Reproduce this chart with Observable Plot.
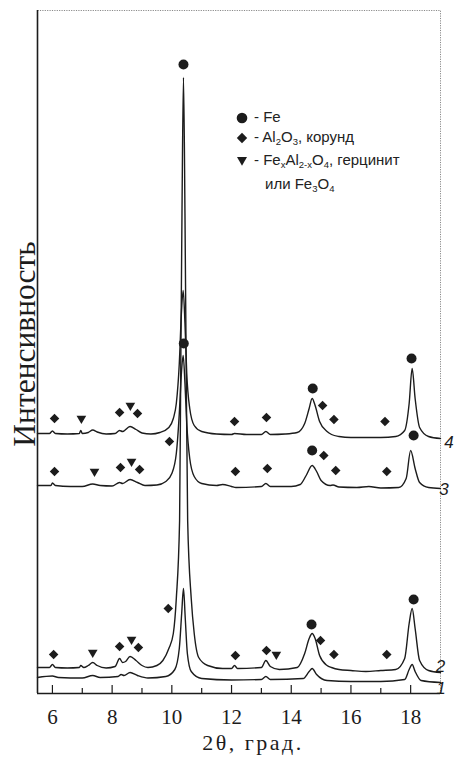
<!DOCTYPE html>
<html><head><meta charset="utf-8">
<script src="https://cdn.jsdelivr.net/npm/d3@7"></script>
<script src="https://cdn.jsdelivr.net/npm/@observablehq/plot@0.6"></script>
<style>
body{margin:0;background:#fff;}
#wrap{position:relative;width:459px;height:763px;}
.lg{position:absolute;font-family:"Liberation Sans",Arial,sans-serif;font-size:15px;color:#222;white-space:nowrap;line-height:16px;}
.lg sub{font-size:9.5px;vertical-align:-3px;line-height:0;}
</style></head><body><div id="wrap"></div>
<script>
const xDomain = [5.5, 19];
const yDomain = [0, 683];
const xTicksMajor = [6, 8, 10, 12, 14, 16, 18];
const xTicksMinor = [7, 9, 11, 13, 15, 17];
const curveNames = ["1", "2", "3", "4"];

const curve1 = [[5.5,16],[6.0,17.5],[6.2,16],[7.0,15.5],[7.35,18],[7.6,16],[8.2,17],[8.3,19],[8.4,18],[8.6,21],[8.85,18],[9.2,15.5],[9.8,17],[10.1,24],[10.25,45],[10.33,80],[10.39,105],[10.45,75],[10.52,40],[10.65,22],[11.0,15],[12.0,13.5],[13.0,14],[13.15,17],[13.3,14],[14.4,15],[14.6,22],[14.7,25],[14.85,19],[15.2,13],[16.0,12],[17.0,12],[17.8,14],[17.95,24],[18.05,29],[18.15,22],[18.35,13],[19.0,11]];
const curve2 = [[5.5,26],[5.9,26],[6.0,29],[6.1,26],[6.5,25.5],[6.9,26],[6.95,28],[7.05,26],[7.2,28],[7.35,31],[7.5,28],[7.8,25.5],[8.1,27],[8.25,35],[8.35,31],[8.45,32],[8.6,37],[8.8,33],[9.0,28],[9.2,26],[9.5,28],[9.7,33],[9.9,45],[10.05,60],[10.15,95],[10.26,173],[10.3,330],[10.34,480],[10.39,616],[10.44,480],[10.48,330],[10.53,173],[10.65,95],[10.75,60],[10.9,36],[11.2,28],[11.7,25],[12.0,25],[12.1,28],[12.2,25],[13.0,26],[13.15,33],[13.3,27],[13.6,24],[14.2,26],[14.45,40],[14.6,55],[14.7,60],[14.8,55],[14.95,38],[15.2,28],[15.35,26],[15.6,24],[16.0,23],[16.5,22],[17.0,23],[17.5,24],[17.8,35],[17.95,70],[18.05,85],[18.15,65],[18.3,33],[18.6,23],[19.0,21]];
const curve3 = [[5.5,208],[5.95,208],[6.0,210.5],[6.1,208],[6.6,207],[7.0,207],[7.35,209.5],[7.6,208],[8.0,207.5],[8.25,211],[8.35,210],[8.6,214],[8.85,211],[9.1,208],[9.5,208.5],[9.8,212],[10.0,220],[10.15,240],[10.25,280],[10.32,320],[10.38,338],[10.44,310],[10.5,270],[10.6,235],[10.75,217],[11.0,210],[11.5,208],[11.7,209],[12.0,207],[12.15,206],[13.0,207],[13.15,210],[13.3,207],[14.0,207],[14.3,209],[14.5,218],[14.7,228],[14.85,222],[15.0,213],[15.3,208],[15.4,208.5],[15.6,206.5],[16.2,206],[16.6,207],[17.0,205.5],[17.6,206],[17.85,215],[18.0,243],[18.15,225],[18.3,211],[18.6,206],[19.0,205]];
const curve4 = [[5.5,260],[5.9,260],[6.0,262.5],[6.1,260],[6.5,259.5],[6.9,260],[6.95,263],[7.0,260],[7.2,261],[7.35,263.5],[7.5,261.5],[7.8,259.5],[8.1,260],[8.25,263],[8.35,262],[8.6,267],[8.8,264],[9.0,260.5],[9.3,259.5],[9.6,261],[9.9,266],[10.05,275],[10.15,290],[10.25,330],[10.32,380],[10.38,403],[10.44,370],[10.5,320],[10.6,285],[10.75,268],[11.0,262],[11.5,259.5],[12.0,259],[12.1,260],[12.5,259],[13.0,259],[13.15,262],[13.3,259],[13.8,259.5],[14.2,261],[14.45,270],[14.6,285],[14.7,295],[14.8,288],[14.95,272],[15.2,262],[15.35,259],[15.6,257],[16.0,256],[16.5,256],[17.0,256],[17.5,257],[17.8,263],[17.95,290],[18.05,325],[18.15,295],[18.3,266],[18.6,257],[19.0,255]];

const feMarks = [[10.39,629],[10.4,350],[14.72,305],[18.03,335],[14.7,243],[18.1,258],[14.68,69],[18.1,94]];
const al2o3Marks = [[6.07,275],[8.25,281],[8.85,280],[12.1,272],[13.17,276],[15.05,288],[15.43,274],[17.14,272],
  [9.92,252],[6.07,222],[8.28,226],[8.92,224],[12.13,222],[13.2,225],[15.09,238],[15.49,223],[17.2,222],
  [6.04,39],[8.25,47],[8.88,46],[9.88,85],[12.13,38],[13.17,43],[14.98,53],[15.43,39],[17.2,39]];
const hercMarks = [[6.97,275],[8.61,288],[7.41,222],[8.65,232],[7.35,41],[8.65,54],[13.5,39]];

const curves = [curve1, curve2, curve3, curve4];
const rows = curves.flatMap((c, i) => c.map(([x, y]) => ({x, y, curve: curveNames[i]})));
const ends = curves.map((c, i) => ({x: c[c.length - 1][0], y: c[c.length - 1][1], label: curveNames[i]}));
const endShift = {"1": [0.5, 6.5], "2": [0, -6], "3": [3.5, 1], "4": [8.5, 4]};
const toObj = a => a.map(([x, y]) => ({x, y}));

const triDown = {draw(ctx, size) {
  const y = Math.sqrt(size / (3 * Math.sqrt(3)));
  ctx.moveTo(0, 2 * y); ctx.lineTo(-Math.sqrt(3) * y, -y); ctx.lineTo(Math.sqrt(3) * y, -y); ctx.closePath();
}};

const ink = "#1c1c1c";
const serif = "Liberation Serif, Times New Roman, serif";
const sans = "Liberation Sans, Arial, sans-serif";
const xLabel = "2θ, град.";

const chart = Plot.plot({
  width: 459, height: 763,
  marginTop: 10, marginBottom: 70, marginLeft: 37, marginRight: 19,
  style: {fontFamily: serif, color: ink, background: "transparent"},
  x: {domain: xDomain},
  y: {domain: yDomain, axis: null},
  marks: [
    Plot.frame({stroke: "#8a8a8a", strokeDasharray: "1.2,1.2", strokeWidth: 1}),
    Plot.ruleX([xDomain[0]], {stroke: ink, strokeWidth: 1.6}),
    Plot.ruleY([yDomain[0]], {stroke: ink, strokeWidth: 1.6}),
    Plot.axisX(xTicksMajor, {tickSize: 0, tickPadding: 16, fontSize: 21, fontFamily: serif, label: null, tickFormat: d => d}),
    Plot.axisX(xTicksMajor, {tickSize: -8, text: null, label: null, stroke: ink, strokeWidth: 1.2}),
    Plot.axisX(xTicksMinor, {tickSize: -5, text: null, label: null, stroke: ink, strokeWidth: 1.2}),
    Plot.text([xLabel], {frameAnchor: "bottom", dx: 14, dy: 56, fontSize: 22, fontFamily: serif, fill: ink}),
    Plot.text(["Интенсивность"], {frameAnchor: "left", textAnchor: "middle", rotate: -90, dx: -13, dy: -8, fontSize: 31.5, fontFamily: serif, fill: ink}),
    Plot.line(rows, {x: "x", y: "y", z: "curve", curve: "monotone-x", stroke: ink, strokeWidth: 1.4}),
    Plot.dot(toObj(feMarks), {x: "x", y: "y", symbol: "circle", r: 5, fill: ink, stroke: "none"}),
    Plot.dot(toObj(al2o3Marks), {x: "x", y: "y", symbol: "diamond2", r: 4.3, fill: ink, stroke: "none"}),
    Plot.dot(toObj(hercMarks), {x: "x", y: "y", symbol: triDown, r: 3.6, fill: ink, stroke: "none"}),
    ...ends.map(e => Plot.text([e], {x: "x", y: "y", text: "label", dx: endShift[e.label][0], dy: endShift[e.label][1], textAnchor: "middle", fontSize: 17, fontStyle: "italic", fontFamily: sans, fill: ink}))
  ]
});
document.getElementById("wrap").appendChild(chart);
chart.querySelectorAll("text").forEach(t => { if (t.textContent === xLabel) t.style.letterSpacing = "2.5px"; });

const legendItems = [
  {sym: "circle", html: "- Fe"},
  {sym: "diamond", html: "- Al<sub>2</sub>O<sub>3</sub>, корунд"},
  {sym: "tri", html: "- Fe<sub>x</sub>Al<sub>2-x</sub>O<sub>4</sub>, герцинит"},
  {sym: null, html: "или Fe<sub>3</sub>O<sub>4</sub>"}
];
const legendTops = [109, 129, 152, 176];
const symSvg = {
  circle: '<svg width="12" height="12" viewBox="-6 -6 12 12"><circle r="5.3" fill="#1c1c1c"/></svg>',
  diamond: '<svg width="12" height="12" viewBox="-6 -6 12 12"><path d="M0,-5.2L5.2,0L0,5.2L-5.2,0Z" fill="#1c1c1c"/></svg>',
  tri: '<svg width="12" height="12" viewBox="-6 -6 12 12"><path d="M-5,-4L5,-4L0,4.8Z" fill="#1c1c1c"/></svg>'
};
const wrap = document.getElementById("wrap");
legendItems.forEach((it, i) => {
  if (it.sym) {
    const s = document.createElement("div");
    s.className = "lg"; s.style.left = "236px"; s.style.top = (legendTops[i] + 2) + "px";
    s.innerHTML = symSvg[it.sym];
    wrap.appendChild(s);
  }
  const t = document.createElement("div");
  t.className = "lg"; t.style.left = (it.sym ? 254 : 265) + "px"; t.style.top = legendTops[i] + "px";
  t.innerHTML = it.html;
  wrap.appendChild(t);
});
</script></body></html>
